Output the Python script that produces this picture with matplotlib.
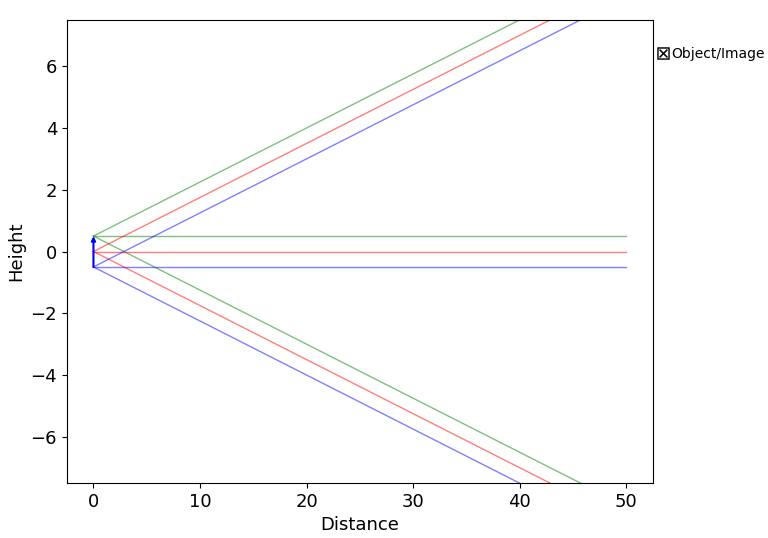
import numpy as np
import matplotlib
matplotlib.use("Agg")
import matplotlib.pyplot as plt

# object at x=0, three source points and their ray slopes
obj_x = 0.0
obj_heights = [0.5, 0.0, -0.5]
ray_colors = ["green", "red", "blue"]
ray_slopes = [0.175, 0.0, -0.175]
ray_end = 50.0

fig, ax = plt.subplots(figsize=(7.68, 5.38), dpi=100)

for h, c in zip(obj_heights, ray_colors):
    for s in ray_slopes:
        xs = np.array([obj_x, ray_end])
        ys = h + s * (xs - obj_x)
        ax.plot(xs, ys, color=c, lw=1, alpha=0.5)

# object arrow
ax.annotate("", xy=(obj_x, obj_heights[0]), xytext=(obj_x, obj_heights[-1]),
            arrowprops=dict(arrowstyle="-|>", color="blue", lw=1.5,
                            mutation_scale=6, shrinkA=0, shrinkB=0))
ax.plot([], [], ls="none", marker="$\\boxtimes$", color="black", ms=9,
        mew=0, label="Object/Image")

ax.set_xlim(-2.5, 52.5)
ax.set_ylim(-7.5, 7.5)
ax.set_xlabel("Distance", fontsize=13)
ax.set_ylabel("Height", fontsize=13)
ax.tick_params(labelsize=13)
ax.legend(loc="upper left", bbox_to_anchor=(1.0, 0.953), frameon=False,
          handlelength=0.6, handletextpad=0.3, borderaxespad=0.0)

fig.subplots_adjust(left=0.087, right=0.85, top=0.963, bottom=0.102)
fig.savefig("out.png")
